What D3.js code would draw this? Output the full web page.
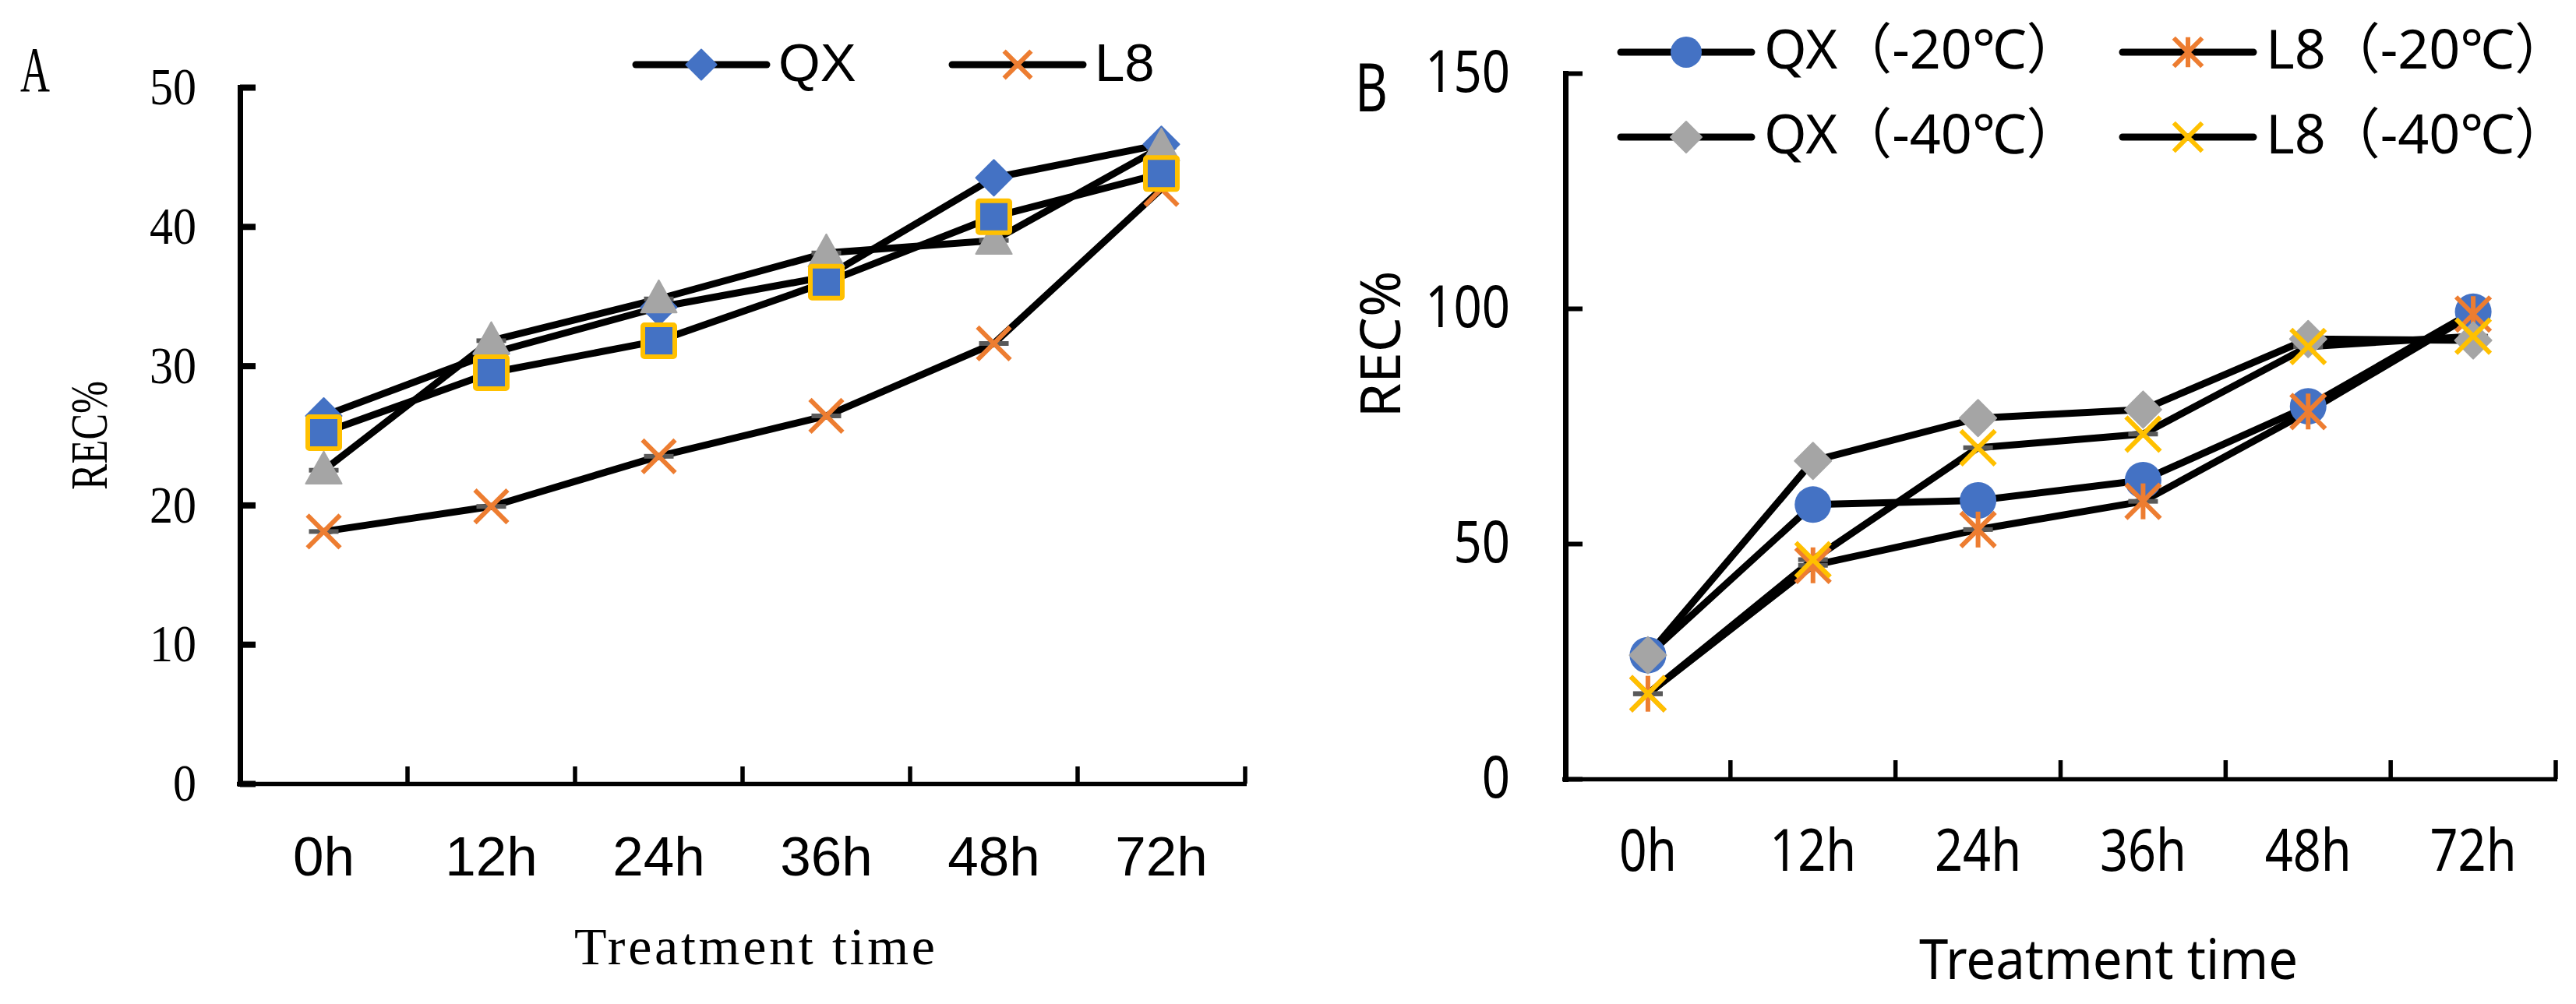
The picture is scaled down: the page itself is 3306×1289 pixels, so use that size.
<!DOCTYPE html>
<html>
<head>
<meta charset="utf-8">
<script src="https://cdn.jsdelivr.net/npm/d3@7"></script>
<style>
  body { margin: 0; background: #fff; }
</style>
</head>
<body>
<script>

// Categories (treatment time) shared by both panels
const categories = ["0h", "12h", "24h", "36h", "48h", "72h"];

// Panel A values (REC%)
const qxA  = [26.4, 30.9, 34.2, 36.4, 43.5, 45.9];
const l8A  = [18.1, 19.9, 23.5, 26.4, 31.6, 42.7];
const triA = [22.5, 31.8, 34.8, 38.1, 39.0, 45.7];
const sqA  = [25.2, 29.5, 31.8, 36.0, 40.7, 43.8];

// Panel B values (REC%)
const qx20 = [26.3, 58.3, 59.2, 63.5, 79.2, 99.3];
const l820 = [18.1, 45.4, 53.0, 59.0, 78.1, 98.8];
const qx40 = [26.3, 67.6, 76.7, 78.5, 93.5, 93.2];
const l840 = [18.1, 46.6, 70.4, 73.3, 91.9, 94.1];

// Tick labels and legend labels
const ticksA = [0, 10, 20, 30, 40, 50];
const ticksB = [0, 50, 100, 150];
const legendA = ["QX", "L8"];
const legendB = ["QX（-20℃）", "L8（-20℃）", "QX（-40℃）", "L8（-40℃）"];

const BLUE = "#4472C4", ORANGE = "#ED7D31", GRAY = "#A5A5A5", GOLD = "#FFC000", DASH = "#595959";
const SERIF = "'Liberation Serif', 'DejaVu Serif', serif";
const SANS_A = "'Liberation Sans', Arial, sans-serif";
const SANS_B = "'Noto Sans', 'Noto Sans CJK SC', sans-serif";

const svg = d3.select("body").append("svg")
    .attr("width", 3306)
    .attr("height", 1289)
    .attr("viewBox", [0, 0, 3306, 1289]);

svg.append("rect").attr("width", 3306).attr("height", 1289).attr("fill", "#fff");

// draw one marker centred on (0,0) of g
function drawMarker(g, type, color, s, stroke) {
    if (type == "diamond") {
        g.append("path")
            .attr("d", `M0,${-s/2}L${s/2},0L0,${s/2}L${-s/2},0Z`)
            .attr("fill", color).attr("stroke", color)
            .attr("stroke-width", 2).attr("stroke-linejoin", "round");
    } else if (type == "circle") {
        g.append("circle").attr("r", s/2).attr("fill", color);
    } else if (type == "triangle") {
        g.append("path")
            .attr("d", `M0,${-s*0.51}L${s*0.49},${s*0.37}L${-s*0.49},${s*0.37}Z`)
            .attr("fill", color).attr("stroke", color)
            .attr("stroke-width", 2).attr("stroke-linejoin", "round");
    } else if (type == "square") {
        g.append("rect")
            .attr("x", -s/2 + 3).attr("y", -s/2 + 3)
            .attr("width", s - 6).attr("height", s - 6)
            .attr("rx", 2)
            .attr("fill", color).attr("stroke", stroke).attr("stroke-width", 6);
    } else if (type == "x" || type == "asterisk") {
        const h = s/2 - 3;
        g.append("path")
            .attr("d", `M${-h},${-h}L${h},${h}M${h},${-h}L${-h},${h}`)
            .attr("stroke", color).attr("stroke-width", 6).attr("fill", "none");
        if (type == "asterisk") {
            g.append("path")
                .attr("d", `M0,${-h-1}V${h+1}`)
                .attr("stroke", color).attr("stroke-width", 6);
        }
    }
}

function drawPanel(p) {
    const g = svg.append("g");
    const cx = i => p.x(categories[i]) + p.x.bandwidth() / 2;

    // Y axis: ticks point into the plot, labels on the left
    const yAxis = g.append("g")
        .attr("transform", `translate(${p.x.range()[0]},0)`)
        .call(d3.axisLeft(p.y).tickValues(p.ticks).tickSize(-p.yTickLen).tickSizeOuter(0).tickPadding(p.yPad));
    yAxis.select(".domain").attr("stroke", "#000").attr("stroke-width", 7).attr("stroke-linecap", "square");
    yAxis.selectAll(".tick line").attr("stroke", "#000").attr("stroke-width", p.yTickW);
    yAxis.selectAll(".tick text")
        .attr("fill", "#000")
        .attr("font-family", p.yFont)
        .attr("font-size", p.yFontSize)
        .attr("textLength", d => String(d).length * p.yCharW)
        .attr("lengthAdjust", "spacingAndGlyphs");
    yAxis.attr("font-family", null).attr("font-size", null);

    // X axis: labels at category centres, ticks on the category boundaries
    const xAxis = g.append("g")
        .attr("transform", `translate(0,${p.y(0)})`)
        .call(d3.axisBottom(p.x).tickSize(0).tickSizeOuter(0));
    xAxis.select(".domain").attr("stroke", "#000").attr("stroke-width", 5.5)
        .attr("d", `M${p.x.range()[0] - 4},0.5H${p.x.range()[1] + 2}`);
    xAxis.selectAll(".tick text")
        .attr("fill", "#000")
        .attr("y", p.xLabelY)
        .attr("dy", 0)
        .attr("font-family", p.xFont)
        .attr("font-size", p.xFontSize)
        .each(function(d) {
            if (p.xCharW) d3.select(this).attr("textLength", d.length * p.xCharW).attr("lengthAdjust", "spacingAndGlyphs");
        });
    xAxis.attr("font-family", null).attr("font-size", null);

    const bounds = categories.slice(1).map(c => p.x(c)).concat(p.x.range()[1]);
    g.append("g").selectAll("line")
        .data(bounds)
        .join("line")
        .attr("x1", d => d).attr("x2", d => d)
        .attr("y1", p.y(0)).attr("y2", p.y(0) - p.xTickLen)
        .attr("stroke", "#000").attr("stroke-width", 5.5);

    // series lines
    const line = d3.line().x((d, i) => cx(i)).y(d => p.y(d));
    p.series.forEach(s => {
        g.append("path")
            .attr("d", line(s.values))
            .attr("fill", "none")
            .attr("stroke", "#000")
            .attr("stroke-width", 9)
            .attr("stroke-linejoin", "round");
    });

    // small dark caps on every point
    p.series.forEach(s => {
        g.append("g").selectAll("rect")
            .data(s.values)
            .join("rect")
            .attr("x", (d, i) => cx(i) - 19)
            .attr("y", d => p.y(d) - 3)
            .attr("width", 38).attr("height", 6)
            .attr("fill", DASH);
    });

    // markers
    p.series.forEach(s => {
        s.values.forEach((v, i) => {
            const m = g.append("g").attr("transform", `translate(${cx(i)},${p.y(v)})`);
            drawMarker(m, s.marker, s.color, s.size, s.stroke);
        });
    });

    // legend
    p.legend.forEach((L, k) => {
        const s = p.series[k];
        const lg = g.append("g").attr("transform", `translate(${L.x},${L.y})`);
        lg.append("line")
            .attr("x1", 0).attr("x2", p.legLine)
            .attr("stroke", "#000").attr("stroke-width", 9).attr("stroke-linecap", "round");
        drawMarker(lg.append("g").attr("transform", `translate(${p.legLine/2},0)`), s.marker, s.color, s.size * 0.85, s.stroke);
        lg.append("text")
            .attr("x", p.legLine + p.legGap)
            .attr("y", p.legBase)
            .attr("font-family", p.legFont)
            .attr("font-size", p.legFontSize)
            .text(L.label);
    });
}

// ---------- Panel A ----------
const xA = d3.scaleBand().domain(categories).range([308, 1598]);
const yA = d3.scaleLinear().domain([0, 50]).range([1006, 112]);

drawPanel({
    x: xA, y: yA, ticks: ticksA,
    yTickLen: 20, yTickW: 8, yPad: 56, yFont: SERIF, yFontSize: 68, yCharW: 30,
    xFont: SANS_A, xFontSize: 71, xLabelY: 118, xTickLen: 22,
    series: [
        {values: qxA,  marker: "diamond",  color: BLUE,   size: 46},
        {values: l8A,  marker: "x",        color: ORANGE, size: 48},
        {values: triA, marker: "triangle", color: GRAY,   size: 47},
        {values: sqA,  marker: "square",   color: BLUE,   size: 47, stroke: GOLD}
    ],
    legend: [
        {label: legendA[0], x: 816, y: 83},
        {label: legendA[1], x: 1222, y: 83}
    ],
    legLine: 168, legGap: 15, legBase: 21, legFont: SANS_A, legFontSize: 69
});

// panel A titles
svg.append("text")
    .attr("x", 26).attr("y", 117)
    .attr("font-family", SERIF).attr("font-size", 83)
    .attr("textLength", 38).attr("lengthAdjust", "spacingAndGlyphs")
    .text("A");

svg.append("text")
    .attr("transform", "translate(137,559) rotate(-90)")
    .attr("text-anchor", "middle")
    .attr("font-family", SERIF).attr("font-size", 68)
    .attr("textLength", 140).attr("lengthAdjust", "spacingAndGlyphs")
    .text("REC%");

svg.append("text")
    .attr("x", 737).attr("y", 1238)
    .attr("font-family", SERIF).attr("font-size", 68)
    .attr("textLength", 463).attr("lengthAdjust", "spacing")
    .text("Treatment time");

// ---------- Panel B ----------
const xB = d3.scaleBand().domain(categories).range([2009, 3280]);
const yB = d3.scaleLinear().domain([0, 150]).range([1000, 94]);

drawPanel({
    x: xB, y: yB, ticks: ticksB,
    yTickLen: 22, yTickW: 6, yPad: 71, yFont: SANS_B, yFontSize: 74, yCharW: 36.3,
    xFont: SANS_B, xFontSize: 74, xLabelY: 118, xTickLen: 24, xCharW: 37,
    series: [
        {values: qx20, marker: "circle",   color: BLUE,   size: 47},
        {values: l820, marker: "asterisk", color: ORANGE, size: 50},
        {values: qx40, marker: "diamond",  color: GRAY,   size: 47},
        {values: l840, marker: "x",        color: GOLD,   size: 50}
    ],
    legend: [
        {label: legendB[0], x: 2080, y: 67},
        {label: legendB[1], x: 2724, y: 67},
        {label: legendB[2], x: 2080, y: 176},
        {label: legendB[3], x: 2724, y: 176}
    ],
    legLine: 168, legGap: 16, legBase: 21, legFont: SANS_B, legFontSize: 70
});

svg.append("text")
    .attr("x", 1739).attr("y", 143)
    .attr("font-family", SANS_B).attr("font-size", 85)
    .attr("textLength", 42).attr("lengthAdjust", "spacingAndGlyphs")
    .text("B");

svg.append("text")
    .attr("transform", "translate(1797,442) rotate(-90)")
    .attr("text-anchor", "middle")
    .attr("font-family", SANS_B).attr("font-size", 72)
    .attr("textLength", 189).attr("lengthAdjust", "spacingAndGlyphs")
    .text("REC%");

svg.append("text")
    .attr("x", 2463).attr("y", 1257)
    .attr("font-family", SANS_B).attr("font-size", 72)
    .attr("textLength", 486).attr("lengthAdjust", "spacingAndGlyphs")
    .text("Treatment time");

</script>
</body>
</html>
